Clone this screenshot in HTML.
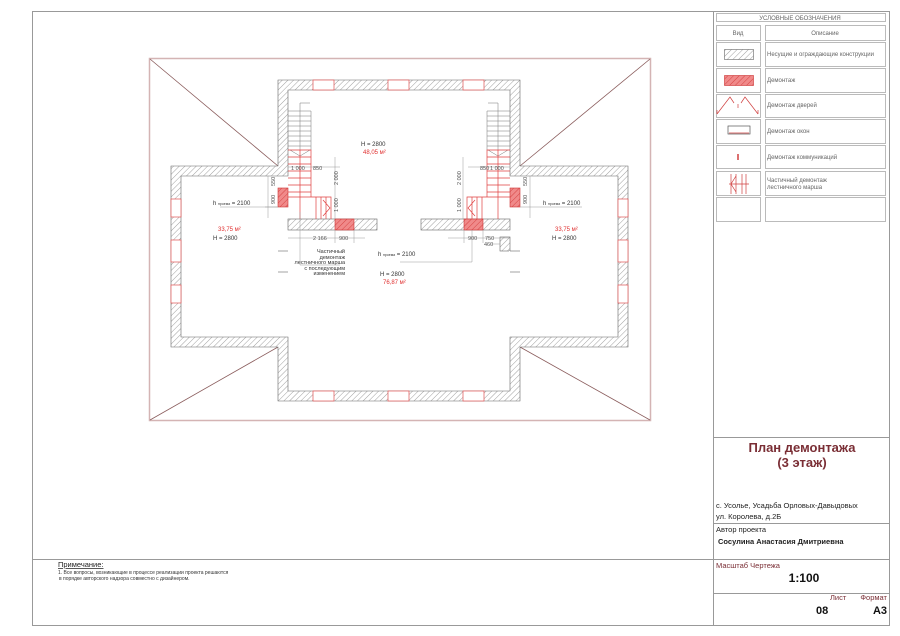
<!DOCTYPE html>
<html><head><meta charset="utf-8"><style>
html,body{margin:0;padding:0;background:#fff;}
svg{display:block;font-family:"Liberation Sans",sans-serif;}
</style></head><body>
<svg width="900" height="636" viewBox="0 0 900 636" xmlns="http://www.w3.org/2000/svg">
<defs>
<pattern id="h" patternUnits="userSpaceOnUse" width="4" height="4" patternTransform="rotate(45)">
<rect width="4" height="4" fill="#fff"/><line x1="0" y1="0" x2="0" y2="4" stroke="#888" stroke-width="0.8"/></pattern>
<pattern id="hr" patternUnits="userSpaceOnUse" width="4" height="4" patternTransform="rotate(45)">
<rect width="4" height="4" fill="#f08a8a"/><line x1="0" y1="0" x2="0" y2="4" stroke="#d03030" stroke-width="0.8"/></pattern>
</defs>
<!-- frame -->
<g fill="none" stroke="#999" stroke-width="1">
<rect x="32.5" y="11.5" width="857" height="614"/>
<line x1="713.5" y1="11" x2="713.5" y2="626"/>
<line x1="32" y1="559.5" x2="890" y2="559.5"/>
<line x1="713" y1="437.5" x2="890" y2="437.5"/>
<line x1="713" y1="523.5" x2="890" y2="523.5"/>
<line x1="713" y1="593.5" x2="890" y2="593.5"/>
</g>
<!-- legend -->
<g fill="none" stroke="#aaa" stroke-width="0.8">
<rect x="716.5" y="13.5" width="169" height="8"/>
<rect x="716.5" y="25.5" width="44" height="15"/><rect x="765.5" y="25.5" width="120" height="15"/>
<rect x="716.5" y="42.5" width="44" height="24"/><rect x="765.5" y="42.5" width="120" height="24"/>
<rect x="716.5" y="68.5" width="44" height="24"/><rect x="765.5" y="68.5" width="120" height="24"/>
<rect x="716.5" y="94.5" width="44" height="23"/><rect x="765.5" y="94.5" width="120" height="23"/>
<rect x="716.5" y="119.5" width="44" height="24"/><rect x="765.5" y="119.5" width="120" height="24"/>
<rect x="716.5" y="145.5" width="44" height="23"/><rect x="765.5" y="145.5" width="120" height="23"/>
<rect x="716.5" y="171.5" width="44" height="24"/><rect x="765.5" y="171.5" width="120" height="24"/>
<rect x="716.5" y="197.5" width="44" height="24"/><rect x="765.5" y="197.5" width="120" height="24"/>
</g>
<g font-size="6" fill="#666">
<text x="800" y="20" text-anchor="middle">УСЛОВНЫЕ ОБОЗНАЧЕНИЯ</text>
<text x="738" y="35" text-anchor="middle">Вид</text>
<text x="825" y="35" text-anchor="middle">Описание</text>
<text x="767" y="56">Несущие и ограждающие конструкции</text>
<text x="767" y="82">Демонтаж</text>
<text x="767" y="107">Демонтаж дверей</text>
<text x="767" y="133">Демонтаж окон</text>
<text x="767" y="159">Демонтаж коммуникаций</text>
<text x="767" y="182">Частичный демонтаж</text>
<text x="767" y="189">лестничного марша</text>
</g>
<rect x="724.5" y="49.5" width="29" height="10" fill="url(#h)" stroke="#666" stroke-width="0.6"/>
<rect x="724.5" y="75.5" width="29" height="10" fill="url(#hr)" stroke="#c33" stroke-width="0.6"/>
<g stroke="#d04040" stroke-width="0.7" fill="none">
<path d="M717 114 L730 97 L734 103 M758 114 L745 97 L741 103 M717 114 L717 110 M758 114 L758 110"/>
<line x1="738" y1="104" x2="738" y2="108"/>
<rect x="728" y="126" width="22" height="8" stroke="#555"/><line x1="729" y1="133" x2="749" y2="133"/>
<line x1="738" y1="154" x2="738" y2="160" stroke-width="1.5"/>
<path d="M731 174 V194 M736 174 V194 M742 174 V194 M746 174 V194 M729 184 H749 M736 176 L731 184 L736 192"/>
</g>
<!-- roof -->
<g fill="none">
<rect x="149.5" y="58.5" width="501" height="362" stroke="#d4b4b4" stroke-width="1.5"/>
<path d="M150 59 L278 166 M650 59 L520 166 M150 420 L278 347 M650 420 L520 347" stroke="#8a5c5c" stroke-width="0.8"/>
</g>
<!-- walls -->
<g fill="url(#h)" stroke="#666" stroke-width="0.6">
<path d="M278 80 H520 V166 H628 V347 H520 V401 H278 V347 H171 V166 H278 Z M288 90 V176 H181 V337 H288 V391 H510 V337 H618 V176 H510 V90 Z" fill-rule="evenodd"/>
<rect x="288" y="219" width="89" height="11"/>
<rect x="421" y="219" width="89" height="11"/>
<rect x="500" y="237" width="10" height="14"/>
</g>
<!-- gap in central walls -->
<rect x="277" y="251" width="12" height="21" fill="#fff"/>
<rect x="509" y="251" width="12" height="21" fill="#fff"/>
<g stroke="#666" stroke-width="0.6"><line x1="278" y1="251" x2="288" y2="251"/><line x1="278" y1="272" x2="288" y2="272"/><line x1="510" y1="251" x2="520" y2="251"/><line x1="510" y1="272" x2="520" y2="272"/></g>
<!-- windows -->
<g fill="#fff" stroke="#e05050" stroke-width="0.7">
<rect x="313" y="80" width="21" height="10"/><rect x="388" y="80" width="21" height="10"/><rect x="463" y="80" width="21" height="10"/>
<rect x="313" y="391" width="21" height="10"/><rect x="388" y="391" width="21" height="10"/><rect x="463" y="391" width="21" height="10"/>
<rect x="171" y="199" width="10" height="18"/><rect x="171" y="240" width="10" height="22"/><rect x="171" y="285" width="10" height="18"/>
<rect x="618" y="199" width="10" height="18"/><rect x="618" y="240" width="10" height="22"/><rect x="618" y="285" width="10" height="18"/>
</g>
<!-- demolition -->
<g fill="url(#hr)" stroke="#c33" stroke-width="0.6">
<rect x="278" y="188" width="10" height="19"/><rect x="510" y="188" width="10" height="19"/>
<rect x="335" y="219" width="19" height="11"/><rect x="464" y="219" width="19" height="11"/>
</g>
<!-- stairs -->
<g stroke="#777" stroke-width="0.5" fill="none">
<path d="M300 103 H310 M300 103 V150 M288 111 H311 V150 M288 116 H311 M288 121 H311 M288 126 H311 M288 131 H311 M288 136 H311 M288 141 H311 M288 146 H311 M290 150 L300 156 L310 150"/>
<path d="M498 103 H488 M498 103 V150 M510 111 H487 V150 M510 116 H487 M510 121 H487 M510 126 H487 M510 131 H487 M510 136 H487 M510 141 H487 M510 146 H487 M508 150 L498 156 L488 150"/>
</g>
<g stroke="#e04040" stroke-width="0.7" fill="none">
<path d="M288 150 H311 V197 H331 V219 M288 157 H311 M288 164 H311 M288 171 H311 M288 178 H311 M288 185 H311 M288 192 H311 M288 197 H311 M300 150 V219 M316 197 V219 M321 197 V219 M326 197 V219 M323 200 L330 208 L323 216"/>
<path d="M510 150 H487 V197 H467 V219 M510 157 H487 M510 164 H487 M510 171 H487 M510 178 H487 M510 185 H487 M510 192 H487 M510 197 H487 M498 150 V219 M482 197 V219 M477 197 V219 M472 197 V219 M475 200 L468 208 L475 216"/>
</g>
<!-- dims -->
<g stroke="#999" stroke-width="0.5" fill="none">
<path d="M288 167 H330 M335 157 V219 M330 167 H340 M268 176 V218 M265 207 H278 M220 207 H278 M288 238 H365 M335 230 V243 M354 230 V243 M300 212 V265 H340 M400 262 H472 V230"/>
<path d="M510 167 H468 M463 157 V219 M530 176 V218 M520 207 H582 M510 238 H448 M483 230 V243 M464 230 V243 M500 244 H490"/>
</g>
<g font-size="5.5" fill="#555">
<text x="291" y="170">1 000</text><text x="313" y="170">850</text>
<text x="480" y="170">850</text><text x="490" y="170" >1 000</text>
<text x="313" y="240">2 166</text><text x="339" y="240">900</text>
<text x="468" y="240">900</text><text x="485" y="240">750</text><text x="484" y="246">460</text>
<text x="338" y="185" transform="rotate(-90 338 185)">2 000</text>
<text x="338" y="212" transform="rotate(-90 338 212)">1 000</text>
<text x="461" y="185" transform="rotate(-90 461 185)">2 000</text>
<text x="461" y="212" transform="rotate(-90 461 212)">1 000</text>
<text x="275" y="186" transform="rotate(-90 275 186)">550</text>
<text x="275" y="204" transform="rotate(-90 275 204)">900</text>
<text x="527" y="186" transform="rotate(-90 527 186)">550</text>
<text x="527" y="204" transform="rotate(-90 527 204)">900</text>
</g>
<g font-size="6" fill="#333">
<text x="213" y="205">h <tspan font-size="3.5">проема</tspan> = 2100</text>
<text x="543" y="205">h <tspan font-size="3.5">проема</tspan> = 2100</text>
<text x="378" y="256">h <tspan font-size="3.5">проема</tspan> = 2100</text>
<text x="213" y="240">H = 2800</text>
<text x="552" y="240">H = 2800</text>
<text x="361" y="146">H = 2800</text>
<text x="380" y="276">H = 2800</text>
</g>
<g font-size="6" fill="#e03030">
<text x="218" y="231">33,75 м²</text><text x="555" y="231">33,75 м²</text>
<text x="363" y="154">48,05 м²</text><text x="383" y="284">76,87 м²</text>
</g>
<g font-size="5.5" fill="#333" text-anchor="end">
<text x="345" y="253">Частичный</text><text x="345" y="259">демонтаж</text><text x="345" y="264">лестничного марша</text><text x="345" y="270">с последующим</text><text x="345" y="275">изменением</text>
</g>
<!-- note -->
<text x="58" y="567" font-size="7.5" fill="#222" text-decoration="underline">Примечание:</text>
<text x="58" y="574" font-size="5" fill="#333">1. Все вопросы, возникающие в процессе реализации проекта решаются</text>
<text x="59" y="580" font-size="5" fill="#333">в порядке авторского надзора совместно с дизайнером.</text>
<!-- title block -->
<g font-weight="bold" fill="#7a2e35" font-size="13" text-anchor="middle">
<text x="802" y="452">План демонтажа</text><text x="802" y="467">(3 этаж)</text>
</g>
<g font-size="7.5" fill="#222">
<text x="716" y="508">с. Усолье, Усадьба Орловых-Давыдовых</text>
<text x="716" y="519">ул. Королева, д.2Б</text>
<text x="716" y="532">Автор проекта</text>
<text x="718" y="544" font-weight="bold">Сосулина Анастасия Дмитриевна</text>
<text x="716" y="568" fill="#7a2e35">Масштаб Чертежа</text>
<text x="830" y="600" fill="#7a2e35">Лист</text>
<text x="887" y="600" fill="#7a2e35" text-anchor="end">Формат</text>
</g>
<text x="804" y="582" font-size="12" font-weight="bold" fill="#111" text-anchor="middle">1:100</text>
<text x="816" y="614" font-size="11" font-weight="bold" fill="#111">08</text>
<text x="887" y="614" font-size="11" font-weight="bold" fill="#111" text-anchor="end">А3</text>
</svg>
</body></html>
